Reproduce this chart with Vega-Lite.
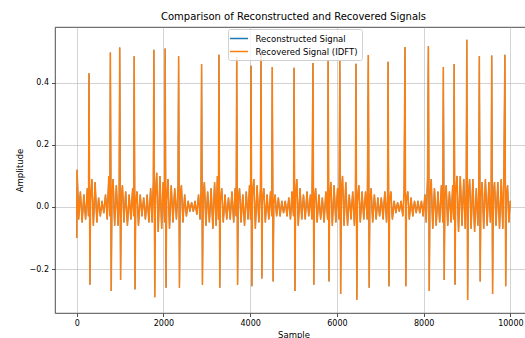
{
  "$schema": "https://vega.github.io/schema/vega-lite/v6.json",
  "width": 477,
  "height": 286,
  "autosize": {"type": "none"},
  "padding": {"left": 55, "top": 27, "right": 0, "bottom": 25},
  "background": "white",
  "title": {
    "text": "Comparison of Reconstructed and Recovered Signals",
    "font": "DejaVu Sans",
    "fontSize": 10,
    "fontWeight": "normal",
    "color": "#000000",
    "anchor": "middle",
    "offset": 5
  },
  "data": {
    "values": [
      {"sample":0,"amplitude":-0.1},{"sample":10,"amplitude":0.12},{"sample":45,"amplitude":-0.04},{"sample":85,"amplitude":0.05},{"sample":125,"amplitude":-0.05},{"sample":165,"amplitude":0.04},{"sample":205,"amplitude":-0.04},{"sample":245,"amplitude":0.06},{"sample":272,"amplitude":-0.03},
      {"sample":285,"amplitude":0.43},{"sample":305,"amplitude":-0.25},{"sample":320,"amplitude":0.02},
      {"sample":350,"amplitude":0.09},{"sample":385,"amplitude":-0.06},{"sample":425,"amplitude":0.08},{"sample":465,"amplitude":-0.05},{"sample":505,"amplitude":0.03},{"sample":545,"amplitude":-0.03},{"sample":585,"amplitude":0.02},{"sample":625,"amplitude":-0.02},{"sample":665,"amplitude":0.04},{"sample":705,"amplitude":-0.04},{"sample":740,"amplitude":0.1},{"sample":765,"amplitude":-0.03},
      {"sample":777,"amplitude":0.497},{"sample":797,"amplitude":-0.27},{"sample":812,"amplitude":0.03},
      {"sample":840,"amplitude":0.09},{"sample":875,"amplitude":-0.06},{"sample":915,"amplitude":0.07},{"sample":955,"amplitude":-0.06},{"sample":980,"amplitude":0.03},
      {"sample":992,"amplitude":0.513},{"sample":1012,"amplitude":-0.235},{"sample":1027,"amplitude":0.02},
      {"sample":1055,"amplitude":0.07},{"sample":1090,"amplitude":-0.05},{"sample":1130,"amplitude":0.05},{"sample":1170,"amplitude":-0.06},{"sample":1210,"amplitude":0.04},{"sample":1250,"amplitude":-0.04},{"sample":1290,"amplitude":0.06},{"sample":1314,"amplitude":-0.03},
      {"sample":1326,"amplitude":0.485},{"sample":1346,"amplitude":-0.265},{"sample":1361,"amplitude":0.01},
      {"sample":1390,"amplitude":0.05},{"sample":1425,"amplitude":-0.06},{"sample":1465,"amplitude":0.04},{"sample":1505,"amplitude":-0.03},{"sample":1545,"amplitude":0.03},{"sample":1585,"amplitude":-0.04},{"sample":1625,"amplitude":0.04},{"sample":1665,"amplitude":-0.05},{"sample":1705,"amplitude":0.06},{"sample":1740,"amplitude":-0.05},{"sample":1768,"amplitude":0.08},
      {"sample":1780,"amplitude":0.506},{"sample":1800,"amplitude":-0.29},{"sample":1815,"amplitude":0.03},
      {"sample":1845,"amplitude":0.11},{"sample":1880,"amplitude":-0.08},{"sample":1920,"amplitude":0.1},{"sample":1960,"amplitude":-0.07},{"sample":1995,"amplitude":0.08},{"sample":2028,"amplitude":-0.05},
      {"sample":2040,"amplitude":0.51},{"sample":2060,"amplitude":-0.26},{"sample":2075,"amplitude":0.02},
      {"sample":2105,"amplitude":0.09},{"sample":2140,"amplitude":-0.07},{"sample":2180,"amplitude":0.07},{"sample":2220,"amplitude":-0.05},{"sample":2260,"amplitude":0.06},{"sample":2300,"amplitude":-0.04},{"sample":2338,"amplitude":0.07},
      {"sample":2350,"amplitude":0.485},{"sample":2370,"amplitude":-0.26},{"sample":2385,"amplitude":0.03},
      {"sample":2415,"amplitude":0.07},{"sample":2450,"amplitude":-0.05},{"sample":2490,"amplitude":0.04},{"sample":2530,"amplitude":-0.03},{"sample":2570,"amplitude":0.02},{"sample":2610,"amplitude":-0.015},{"sample":2650,"amplitude":0.015},{"sample":2690,"amplitude":-0.015},{"sample":2730,"amplitude":0.02},{"sample":2770,"amplitude":-0.025},{"sample":2810,"amplitude":0.04},{"sample":2845,"amplitude":-0.04},{"sample":2868,"amplitude":0.05},
      {"sample":2880,"amplitude":0.459},{"sample":2900,"amplitude":-0.25},{"sample":2915,"amplitude":0.03},
      {"sample":2945,"amplitude":0.08},{"sample":2980,"amplitude":-0.06},{"sample":3020,"amplitude":0.05},{"sample":3060,"amplitude":-0.05},{"sample":3100,"amplitude":0.06},{"sample":3140,"amplitude":-0.07},{"sample":3180,"amplitude":0.08},{"sample":3215,"amplitude":-0.06},{"sample":3245,"amplitude":0.1},{"sample":3268,"amplitude":-0.04},
      {"sample":3280,"amplitude":0.49},{"sample":3300,"amplitude":-0.26},{"sample":3315,"amplitude":0.02},
      {"sample":3345,"amplitude":0.06},{"sample":3380,"amplitude":-0.05},{"sample":3420,"amplitude":0.04},{"sample":3460,"amplitude":-0.04},{"sample":3500,"amplitude":0.03},{"sample":3540,"amplitude":-0.04},{"sample":3580,"amplitude":0.05},{"sample":3620,"amplitude":-0.05},{"sample":3655,"amplitude":0.06},{"sample":3678,"amplitude":-0.03},
      {"sample":3690,"amplitude":0.483},{"sample":3710,"amplitude":-0.25},{"sample":3725,"amplitude":0.02},
      {"sample":3755,"amplitude":0.06},{"sample":3790,"amplitude":-0.05},{"sample":3830,"amplitude":0.04},{"sample":3870,"amplitude":-0.06},{"sample":3910,"amplitude":0.05},{"sample":3950,"amplitude":-0.04},{"sample":3985,"amplitude":0.07},{"sample":4008,"amplitude":-0.04},
      {"sample":4020,"amplitude":0.454},{"sample":4040,"amplitude":-0.255},{"sample":4055,"amplitude":0.04},
      {"sample":4085,"amplitude":0.09},{"sample":4120,"amplitude":-0.07},{"sample":4160,"amplitude":0.07},{"sample":4200,"amplitude":-0.05},{"sample":4238,"amplitude":0.06},
      {"sample":4250,"amplitude":0.491},{"sample":4270,"amplitude":-0.23},{"sample":4285,"amplitude":0.02},
      {"sample":4315,"amplitude":0.06},{"sample":4350,"amplitude":-0.05},{"sample":4390,"amplitude":0.04},{"sample":4430,"amplitude":-0.04},{"sample":4470,"amplitude":0.05},{"sample":4498,"amplitude":-0.03},
      {"sample":4510,"amplitude":0.45},{"sample":4530,"amplitude":-0.24},{"sample":4545,"amplitude":0.01},
      {"sample":4575,"amplitude":0.04},{"sample":4610,"amplitude":-0.03},{"sample":4650,"amplitude":0.03},{"sample":4690,"amplitude":-0.03},{"sample":4730,"amplitude":0.02},{"sample":4770,"amplitude":-0.02},{"sample":4810,"amplitude":0.02},{"sample":4850,"amplitude":-0.03},{"sample":4890,"amplitude":0.03},{"sample":4930,"amplitude":-0.04},{"sample":4965,"amplitude":0.05},{"sample":5000,"amplitude":-0.03},
      {"sample":5013,"amplitude":0.448},{"sample":5033,"amplitude":-0.27},{"sample":5048,"amplitude":0.03},
      {"sample":5075,"amplitude":0.09},{"sample":5110,"amplitude":-0.06},{"sample":5150,"amplitude":0.06},{"sample":5190,"amplitude":-0.04},{"sample":5230,"amplitude":0.04},{"sample":5270,"amplitude":-0.04},{"sample":5310,"amplitude":0.05},{"sample":5350,"amplitude":-0.03},{"sample":5390,"amplitude":0.04},{"sample":5425,"amplitude":-0.04},
      {"sample":5448,"amplitude":0.463},{"sample":5468,"amplitude":-0.25},{"sample":5483,"amplitude":0.02},
      {"sample":5510,"amplitude":0.06},{"sample":5545,"amplitude":-0.05},{"sample":5585,"amplitude":0.04},{"sample":5625,"amplitude":-0.04},{"sample":5665,"amplitude":0.03},{"sample":5705,"amplitude":-0.05},{"sample":5745,"amplitude":0.05},{"sample":5786,"amplitude":-0.04},
      {"sample":5798,"amplitude":0.472},{"sample":5818,"amplitude":-0.24},{"sample":5833,"amplitude":0.03},
      {"sample":5860,"amplitude":0.08},{"sample":5895,"amplitude":-0.06},{"sample":5935,"amplitude":0.07},{"sample":5975,"amplitude":-0.05},{"sample":6015,"amplitude":0.06},{"sample":6050,"amplitude":-0.04},
      {"sample":6067,"amplitude":0.472},{"sample":6087,"amplitude":-0.28},{"sample":6102,"amplitude":0.04},
      {"sample":6130,"amplitude":0.1},{"sample":6165,"amplitude":-0.06},{"sample":6205,"amplitude":0.08},{"sample":6245,"amplitude":-0.06},{"sample":6285,"amplitude":0.04},{"sample":6325,"amplitude":-0.04},{"sample":6365,"amplitude":0.05},{"sample":6405,"amplitude":-0.06},{"sample":6428,"amplitude":0.04},
      {"sample":6440,"amplitude":0.461},{"sample":6460,"amplitude":-0.298},{"sample":6475,"amplitude":0.02},
      {"sample":6505,"amplitude":0.07},{"sample":6540,"amplitude":-0.05},{"sample":6580,"amplitude":0.05},{"sample":6620,"amplitude":-0.04},{"sample":6660,"amplitude":0.05},{"sample":6700,"amplitude":-0.04},
      {"sample":6725,"amplitude":0.489},{"sample":6745,"amplitude":-0.26},{"sample":6760,"amplitude":0.02},
      {"sample":6790,"amplitude":0.06},{"sample":6825,"amplitude":-0.05},{"sample":6865,"amplitude":0.04},{"sample":6905,"amplitude":-0.04},{"sample":6945,"amplitude":0.03},{"sample":6985,"amplitude":-0.03},{"sample":7025,"amplitude":0.03},{"sample":7065,"amplitude":-0.04},{"sample":7105,"amplitude":0.05},{"sample":7145,"amplitude":-0.05},{"sample":7169,"amplitude":0.04},
      {"sample":7181,"amplitude":0.467},{"sample":7201,"amplitude":-0.255},{"sample":7216,"amplitude":0.02},
      {"sample":7245,"amplitude":0.05},{"sample":7280,"amplitude":-0.04},{"sample":7320,"amplitude":0.02},{"sample":7360,"amplitude":-0.02},{"sample":7400,"amplitude":0.015},{"sample":7440,"amplitude":-0.015},{"sample":7480,"amplitude":0.02},{"sample":7520,"amplitude":-0.03},{"sample":7550,"amplitude":0.05},
      {"sample":7570,"amplitude":0.515},{"sample":7590,"amplitude":-0.255},{"sample":7605,"amplitude":0.02},
      {"sample":7635,"amplitude":0.05},{"sample":7670,"amplitude":-0.04},{"sample":7710,"amplitude":0.03},{"sample":7750,"amplitude":-0.03},{"sample":7790,"amplitude":0.02},{"sample":7830,"amplitude":-0.02},{"sample":7870,"amplitude":0.02},{"sample":7910,"amplitude":-0.02},{"sample":7950,"amplitude":0.02},{"sample":7990,"amplitude":-0.03},{"sample":8030,"amplitude":0.04},{"sample":8060,"amplitude":-0.05},{"sample":8090,"amplitude":0.09},
      {"sample":8110,"amplitude":0.517},{"sample":8130,"amplitude":-0.27},{"sample":8145,"amplitude":0.03},
      {"sample":8175,"amplitude":0.09},{"sample":8210,"amplitude":-0.07},{"sample":8250,"amplitude":0.06},{"sample":8290,"amplitude":-0.06},{"sample":8330,"amplitude":0.05},{"sample":8370,"amplitude":-0.05},{"sample":8410,"amplitude":0.07},{"sample":8443,"amplitude":-0.05},
      {"sample":8455,"amplitude":0.45},{"sample":8475,"amplitude":-0.235},{"sample":8490,"amplitude":0.03},
      {"sample":8520,"amplitude":0.07},{"sample":8555,"amplitude":-0.06},{"sample":8595,"amplitude":0.05},{"sample":8635,"amplitude":-0.05},{"sample":8670,"amplitude":0.07},{"sample":8692,"amplitude":-0.04},
      {"sample":8704,"amplitude":0.46},{"sample":8724,"amplitude":-0.25},{"sample":8739,"amplitude":0.04},
      {"sample":8770,"amplitude":0.1},{"sample":8805,"amplitude":-0.08},{"sample":8845,"amplitude":0.1},{"sample":8885,"amplitude":-0.06},{"sample":8925,"amplitude":0.09},{"sample":8960,"amplitude":-0.07},{"sample":8983,"amplitude":0.06},
      {"sample":8995,"amplitude":0.538},{"sample":9015,"amplitude":-0.299},{"sample":9030,"amplitude":0.03},
      {"sample":9060,"amplitude":0.09},{"sample":9095,"amplitude":-0.07},{"sample":9135,"amplitude":0.09},{"sample":9175,"amplitude":-0.08},{"sample":9215,"amplitude":0.06},{"sample":9250,"amplitude":-0.06},{"sample":9273,"amplitude":0.05},
      {"sample":9285,"amplitude":0.485},{"sample":9305,"amplitude":-0.24},{"sample":9320,"amplitude":0.03},
      {"sample":9350,"amplitude":0.08},{"sample":9385,"amplitude":-0.07},{"sample":9425,"amplitude":0.09},{"sample":9465,"amplitude":-0.06},{"sample":9505,"amplitude":0.08},{"sample":9540,"amplitude":-0.05},{"sample":9558,"amplitude":0.04},
      {"sample":9570,"amplitude":0.487},{"sample":9590,"amplitude":-0.28},{"sample":9605,"amplitude":0.03},
      {"sample":9635,"amplitude":0.08},{"sample":9670,"amplitude":-0.06},{"sample":9710,"amplitude":0.08},{"sample":9750,"amplitude":-0.07},{"sample":9790,"amplitude":0.09},{"sample":9825,"amplitude":-0.07},{"sample":9853,"amplitude":0.12},
      {"sample":9873,"amplitude":0.49},{"sample":9893,"amplitude":-0.255},{"sample":9908,"amplitude":0.03},
      {"sample":9935,"amplitude":0.07},{"sample":9965,"amplitude":-0.05},{"sample":9999,"amplitude":0.02}
    ]
  },
  "encoding": {
    "x": {
      "field": "sample",
      "type": "quantitative",
      "scale": {"domain": [-500, 10499], "nice": false, "zero": false},
      "axis": {"values": [0, 2000, 4000, 6000, 8000, 10000], "format": "d", "title": "Sample"}
    },
    "y": {
      "field": "amplitude",
      "type": "quantitative",
      "scale": {"domain": [-0.341, 0.579], "nice": false, "zero": false},
      "axis": {"values": [-0.2, 0, 0.2, 0.4], "format": ".1f", "title": "Amplitude"}
    }
  },
  "layer": [
    {
      "mark": {"type": "line", "strokeWidth": 1.1, "clip": true},
      "encoding": {
        "color": {
          "datum": "Reconstructed Signal",
          "scale": {
            "domain": ["Reconstructed Signal", "Recovered Signal (IDFT)"],
            "range": ["#1f77b4", "#ff7f0e"]
          },
          "legend": {
            "title": null,
            "orient": "none",
            "legendX": 173,
            "legendY": 2
          }
        }
      }
    },
    {
      "mark": {"type": "line", "strokeWidth": 1.5, "clip": true},
      "encoding": {
        "color": {"datum": "Recovered Signal (IDFT)"}
      }
    }
  ],
  "config": {
    "view": {"stroke": "#222222", "strokeWidth": 0.8},
    "axis": {
      "domain": false,
      "grid": true,
      "gridColor": "#b0b0b0",
      "gridOpacity": 0.7,
      "gridWidth": 0.8,
      "tickColor": "#222222",
      "tickWidth": 0.8,
      "tickSize": 3.5,
      "labelFont": "DejaVu Sans",
      "labelFontSize": 8,
      "labelColor": "#000000",
      "labelPadding": 3,
      "titleFont": "DejaVu Sans",
      "titleFontSize": 8.5,
      "titleFontWeight": "normal",
      "titleColor": "#000000"
    },
    "axisX": {"titlePadding": 3},
    "axisY": {"titlePadding": 5},
    "legend": {
      "symbolType": "M-2,0H2",
      "symbolSize": 81,
      "symbolStrokeWidth": 1.5,
      "symbolOffset": 1.5,
      "labelFont": "DejaVu Sans",
      "labelFontSize": 8.5,
      "labelColor": "#000000",
      "labelOffset": 11,
      "padding": 4,
      "rowPadding": 3,
      "fillColor": "rgba(255,255,255,0.8)",
      "strokeColor": "#d0d0d0",
      "cornerRadius": 2
    }
  }
}
